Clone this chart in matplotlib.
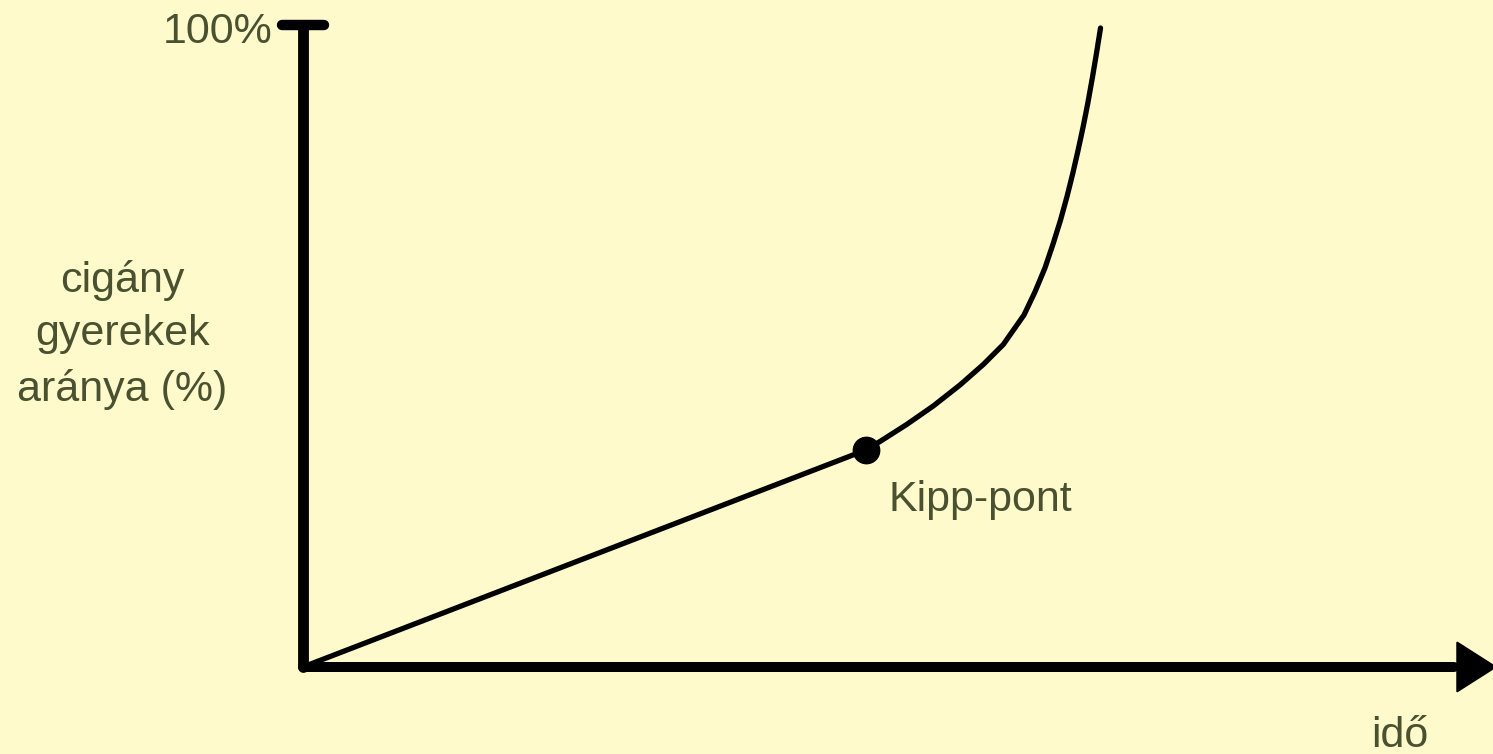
import numpy
import matplotlib
matplotlib.use('Agg')
import matplotlib.pyplot as plt

# ido (x) es a cigany gyerekek aranya (%) a gorben
ido = [0, 47.31, 48.49, 50.73, 52.97, 55.21, 57.17, 58.85, 60.59, 61.51, 62.35,
       63.05, 63.66, 64.20, 64.69, 65.14, 65.56, 65.95, 66.35, 66.68, 67.02]
arany = [0, 33.96, 35.29, 37.95, 40.85, 44.13, 47.34, 50.47, 55.09, 58.69, 62.44,
         66.31, 69.95, 73.60, 77.26, 80.91, 84.55, 88.22, 92.38, 96.04, 100.0]

kipp_x = 47.31
kipp_y = 33.96

y_max = 100
x_arrow_tip = 100.2

bg = '#fffacc'
txt = '#4a5130'
font = ['Liberation Sans', 'DejaVu Sans']

fig = plt.figure(figsize=(14.93, 7.54), dpi=100, facecolor=bg)
ax = fig.add_axes([0, 0, 1, 1])
ax.set_facecolor(bg)
ax.set_xlim(-25.46, 100.0)
ax.set_ylim(-13.62, 104.38)
ax.axis('off')

# tengelyek
ax.plot([0, 0], [0, y_max + 0.5], color='black', lw=7.8, solid_capstyle='round', zorder=3)
ax.plot([-1.8, 1.8], [y_max + 0.5, y_max + 0.5], color='black', lw=7.5, solid_capstyle='round', zorder=3)
ax.plot([0, x_arrow_tip - 3.5], [0, 0], color='black', lw=7.2, solid_capstyle='round', zorder=3)
head_len = 3.2
head_half = 3.8
ax.fill([x_arrow_tip - head_len, x_arrow_tip - head_len, x_arrow_tip],
        [-head_half, head_half, 0], color='black', zorder=3, lw=1.5, ec='black', joinstyle='round')

# gorbe
ax.plot(ido, arany, color='black', lw=3.8, solid_capstyle='round', solid_joinstyle='round', zorder=4)
ax.plot([kipp_x], [kipp_y], 'o', color='black', markersize=19, zorder=5)

# szovegek
ax.text(-2.6, 99.3, '100%', ha='right', va='center', fontsize=31, color=txt, family=font)
ax.text(-15.2, 52.0, 'cigány\ngyerekek\naránya (%)', ha='center', va='center',
        multialignment='center', linespacing=1.44, fontsize=31, color=txt, family=font)
ax.text(49.2, 24.4, 'Kipp-pont', ha='left', va='baseline', fontsize=31, color=txt, family=font)
ax.text(89.8, -12.5, 'idő', ha='left', va='baseline', fontsize=31, color=txt, family=font)

fig.savefig('out.png', dpi=100, facecolor=bg)
